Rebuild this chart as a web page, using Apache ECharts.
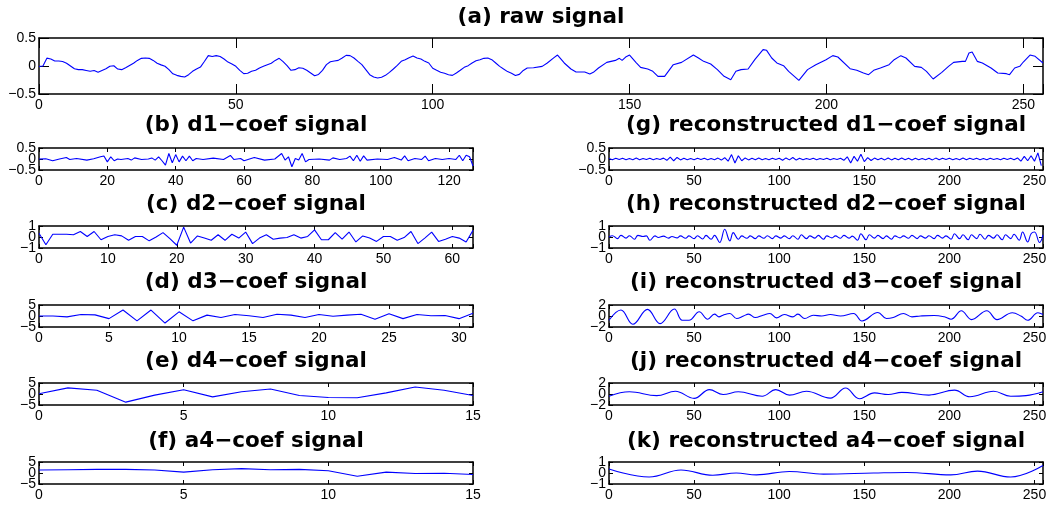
<!DOCTYPE html>
<html>
<head>
<meta charset="utf-8">
<script src="https://cdn.jsdelivr.net/npm/echarts@6/dist/echarts.min.js"></script>
<style>
html, body { margin: 0; padding: 0; background: #fff; }
#main { width: 1053px; height: 506px; }
</style>
</head>
<body>
<div id="main"></div>
<script>
// raw signal, samples 0..119 read one by one
const rawHead = [-0.01, 0.0, 0.14, 0.125, 0.09, 0.09, 0.08, 0.05, 0, -0.05,
  -0.065, -0.065, -0.08, -0.095, -0.08, -0.11, -0.08, -0.05, -0.005, 0.005,
  -0.055, -0.065, -0.03, 0.01, 0.05, 0.1, 0.137, 0.143, 0.137, 0.1,
  0.05, 0.02, -0.005, -0.065, -0.14, -0.167, -0.185, -0.196, -0.155, -0.095,
  -0.054, -0.02, 0.08, 0.185, 0.17, 0.185, 0.17, 0.125, 0.07, 0.035,
  -0.005, -0.077, -0.137, -0.13, -0.095, -0.077, -0.035, -0.005, 0.024, 0.05,
  0.1, 0.137, 0.077, 0.005, -0.077, -0.065, -0.03, -0.04, -0.077, -0.125,
  -0.173, -0.15, -0.077, 0.024, 0.077, 0.09, 0.1, 0.143, 0.19, 0.185,
  0.143, 0.083, 0.024, -0.065, -0.155, -0.196, -0.214, -0.2, -0.167, -0.113,
  -0.054, 0.012, 0.083, 0.113, 0.149, 0.18, 0.143, 0.125, 0.083, 0.054,
  -0.04, -0.077, -0.113, -0.13, -0.155, -0.167, -0.125, -0.077, -0.024, 0.006,
  0.054, 0.095, 0.113, 0.137, 0.143, 0.113, 0.054, -0.006, -0.054, -0.1];
// raw signal from 120 on, read at the turning points
const rawTail = [[120, -0.13], [121, -0.17], [122, -0.15], [123, -0.08], [124, -0.036],
  [125.6, -0.03], [127.8, -0.006], [129.1, 0.054], [130.8, 0.149], [131.7, 0.196],
  [133.4, 0.054], [135.1, -0.054], [136.4, -0.107], [138.6, -0.107], [139.9, -0.143],
  [140.8, -0.113], [142.1, -0.036], [144.2, 0.065], [146.4, 0.1], [147.4, 0.137],
  [148.1, 0.1], [149, 0.16], [150, 0.196], [151.6, 0.065], [152.8, -0.024],
  [154.6, -0.054], [155.9, -0.095], [157.2, -0.185], [158.9, -0.185], [161.1, 0.024],
  [163.2, 0.065], [166.2, 0.196], [167.5, 0.143], [168.8, 0.083], [170.6, 0.036],
  [172.3, -0.065], [174, -0.185], [175.7, -0.244], [177, -0.095], [178.3, -0.065],
  [180.1, -0.054], [181.8, 0.113], [183.9, 0.292], [184.8, 0.28], [186.1, 0.143],
  [187.4, 0.054], [189.1, 0.006], [190.4, -0.095], [193, -0.256], [195.2, -0.065],
  [197.3, 0.024], [199.9, 0.113], [201.6, 0.185], [202.9, 0.161], [206, -0.048],
  [207.7, -0.077], [209.4, -0.125], [210.7, -0.155], [212, -0.077], [213.7, -0.036],
  [215.9, 0.024], [217.2, 0.113], [218.9, 0.185], [220.2, 0.143], [222.4, -0.006],
  [224.1, -0.024], [225.4, -0.095], [227.1, -0.232], [229.3, -0.113], [231, -0.006],
  [232.3, 0.065], [234.5, 0.083], [235.3, 0.083], [236.2, 0.232], [237, 0.25],
  [238.3, 0.083], [239.6, 0.054], [241.8, -0.036], [243.5, -0.125], [245.7, -0.137],
  [246.5, -0.155], [247.8, -0.036], [249.1, -0.006], [250, 0.071], [251.7, 0.196],
  [253, 0.173], [255, 0.054]];

// d1 coefficients (128), read where the line turns
const d1 = [[0, 0], [2, 0.01], [4, -0.08], [6, 0], [8, 0.07], [9, -0.02], [11, 0.02], [14, -0.05],
  [16, 0.01], [18, 0.1], [19, 0.14], [20, -0.13], [21, 0.1], [22, -0.08], [23, 0], [24, -0.02],
  [26, 0.02], [27, -0.05], [28, 0.05], [30, -0.02], [32, 0], [33, 0.05], [34, -0.05], [35, 0.1],
  [36, -0.08], [37, -0.28], [38, 0.25], [39, -0.17], [40, 0.2], [41, -0.13], [42, 0.13], [43, -0.08],
  [44, 0.13], [45, -0.08], [46, 0.02], [48, -0.02], [51, 0.04], [54, -0.02], [56, 0.16], [57, -0.02],
  [59, 0.02], [60, -0.08], [63, 0.07], [66, -0.05], [69, 0], [71, 0.25], [72, -0.05], [73, 0.1],
  [74, -0.35], [75, 0.02], [76, -0.05], [77, 0.25], [78, -0.13], [79, -0.02], [82, 0], [85, -0.05],
  [86, 0.05], [88, -0.02], [90, 0.02], [91, 0.13], [92, -0.08], [93, 0.17], [94, -0.1], [95, 0.14],
  [96, -0.05], [99, 0], [102, -0.02], [104, 0.07], [106, -0.05], [107, 0.14], [108, -0.08], [110, 0.02],
  [112, -0.02], [113, 0.13], [114, -0.08], [116, 0.02], [118, -0.02], [120, 0.02], [122, -0.02],
  [123, 0.17], [124, -0.08], [125, 0.17], [126, 0.1], [127, -0.32]];

// d2 coefficients (64)
const d2 = [0.34, -0.7, 0.25, 0.25, 0.25, 0.2, 0.5, 0.05, 0.5, -0.25,
  0.05, 0.2, 0.1, -0.3, 0.05, 0.05, -0.35, 0, 0.4, -0.15,
  -0.75, 0.9, -0.55, 0.1, -0.1, -0.3, 0.2, -0.3, 0.25, -0.1,
  0.45, -0.6, -0.1, 0.2, -0.2, -0.1, -0.05, 0.2, -0.1, 0.05,
  0.65, -0.25, -0.25, 0.4, -0.2, 0.45, -0.45, 0.1, -0.1, -0.4,
  0.05, 0.05, -0.3, -0.05, 0.5, -0.6, -0.1, 0.45, -0.4, -0.2,
  0.05, -0.1, -0.45, 0.6];

// d3 coefficients (32)
const d3 = [0, 0, -0.4, 0.7, 0.5, -1.2, 2.7, -2.2, 2.7, -3.2,
  1.9, -2.2, 0.4, -0.7, 0.7, 0.1, -0.7, 0.8, 0.4, -0.7,
  0.7, -0.1, 0.4, 0.8, -1.5, 1.0, -1.2, 0.7, 0.1, 0.2,
  -1.2, 1.2];

// d4 and a4 coefficients (16)
const d4 = [0.1, 2.8, 1.7, -3.7, -0.5, 1.9, -1.3, 1.0, 2.3, -0.7, -1.6, -1.7, 0.5, 3.2, 1.7, -0.7];
const a4 = [1.35, 1.5, 1.65, 1.65, 1.35, 0.4, 1.5, 2.0, 1.5, 1.65, 1.0, -1.5, 0.4, -0.2, -0.1, -0.7];

// reconstructed d1, every second sample
const recD1 = [0.02, -0.03, 0.03, -0.02, 0.03, -0.03, 0.02, -0.03, 0.04, -0.03,
  0.02, -0.02, 0.03, -0.03, 0.02, -0.02, 0.04, -0.06, 0.09, -0.08,
  0.07, -0.04, 0.03, -0.03, 0.02, -0.03, 0.03, -0.02, 0.03, -0.03,
  0.02, -0.03, 0.04, -0.05, 0.06, -0.1, 0.2, -0.18, 0.15, -0.08,
  0.05, -0.04, 0.03, -0.03, 0.04, -0.03, 0.02, -0.03, 0.03, -0.02,
  0.03, -0.06, 0.05, -0.04, 0.07, -0.05, 0.03, -0.03, 0.02, -0.02,
  0.03, -0.03, 0.02, -0.02, 0.03, -0.03, 0.02, -0.02, 0.03, -0.06,
  0.1, -0.18, 0.12, -0.1, 0.22, -0.12, 0.06, -0.07, 0.04, -0.03,
  0.03, -0.04, 0.05, -0.04, 0.03, -0.03, 0.04, -0.03, 0.03, -0.04,
  0.03, -0.03, 0.02, -0.03, 0.03, -0.04, 0.04, -0.03, 0.03, -0.02,
  0.03, -0.03, 0.02, -0.03, 0.04, -0.03, 0.03, -0.02, 0.03, -0.03,
  0.02, -0.03, 0.03, -0.02, 0.02, -0.03, 0.03, -0.02, 0.03, -0.03,
  0.05, -0.1, 0.12, -0.08, 0.15, -0.1, 0.28, -0.3];

// reconstructed d2..a4, read at peaks and troughs
const recD2 = [[0, 0], [2, 0.12], [5, -0.15], [7, 0.15], [10, -0.1], [12, 0.12], [15, -0.2], [17, 0.15],
  [20, 0.05], [22, 0.1], [24, -0.3], [27, 0.1], [29, -0.05], [32, 0.08], [35, -0.1], [37, 0.05],
  [40, -0.08], [42, 0.1], [45, -0.12], [47, 0.1], [50, -0.15], [52, 0.12], [55, -0.18], [57, 0.15],
  [60, -0.2], [62, 0.15], [65, -0.5], [68, 0.7], [71, -0.35], [73, 0.4], [76, -0.2], [78, 0.1],
  [81, -0.12], [83, 0.1], [86, -0.15], [88, 0.1], [91, -0.12], [93, 0.12], [96, -0.15], [98, 0.1],
  [101, -0.1], [103, 0.1], [106, -0.15], [108, 0.12], [111, -0.2], [113, 0.2], [116, -0.15], [118, 0.1],
  [121, -0.1], [123, 0.15], [126, -0.2], [128, 0.1], [131, -0.08], [133, 0.1], [136, -0.12], [138, 0.15],
  [141, -0.1], [143, 0.08], [146, -0.3], [148, 0.3], [151, -0.25], [153, 0.2], [156, -0.1], [158, 0.15],
  [161, -0.15], [163, 0.1], [166, -0.2], [168, 0.1], [171, -0.08], [173, 0.1], [176, -0.12], [178, 0.15],
  [181, -0.15], [183, 0.1], [186, -0.1], [188, 0.12], [191, -0.15], [193, 0.15], [196, -0.1], [198, 0.1],
  [201, -0.2], [203, 0.3], [206, -0.15], [208, 0.2], [211, -0.25], [213, 0.2], [216, -0.15], [218, 0.25],
  [221, -0.2], [223, 0.15], [226, -0.1], [228, 0.2], [231, -0.25], [233, 0.2], [236, -0.15], [238, 0.25],
  [241, -0.3], [243, 0.45], [246, -0.45], [248, 0.3], [250, 0.45], [253, -0.5], [255, 0.2]];

const recD3 = [[0, -0.77], [7, 1.08], [14, -1.5], [22.6, 1.2], [30, -1.38], [38.4, 1.26], [43, -0.77],
  [47, -0.77], [53, 0.77], [58, -0.58], [62, 0.34], [64.6, -0.15], [67, 0.15], [71, 0.46], [75, -0.46],
  [79, 0], [82, 0.34], [86, -0.28], [90.5, 0.15], [94.5, 0.46], [98.4, -0.34], [103, 0.28], [108, -0.15],
  [111, 0.34], [115, -0.46], [120, 0.15], [125, 0], [130, 0.28], [136, 0], [143.7, 0.46], [148.6, -0.9],
  [158, 0.65], [163, -0.46], [167, -0.28], [173, 0.46], [178, -0.15], [183, 0], [191, 0.1], [197, -0.15],
  [201, -0.58], [207, 0.95], [213, -0.65], [222, 0.95], [228, -0.65], [237, 0.58], [242, 0], [246, -0.77],
  [252, 0.58], [255, 0.28]];

const recD4 = [[0, -0.4], [12, 0.4], [28, -0.3], [39, 0.5], [50, -0.8], [59, 0.8], [67, -0.1], [76, 0.4],
  [90, -0.4], [98, 0.8], [106, -0.2], [116, 0.5], [130, -0.75], [139, 1.1], [147, -0.85], [156, 0.2],
  [164, -0.1], [172, 0.3], [188, -0.2], [203, 0.7], [212, -0.5], [226, 0.5], [236, -0.4], [245, -0.3],
  [255, 0.4]];

const recA4 = [[0, 0.37], [23.6, -0.37], [42.3, 0.27], [61, -0.2], [74.8, 0], [86.6, -0.17], [106, 0.14],
  [126, -0.1], [155.5, 0], [175, 0.05], [200.8, -0.17], [216.5, 0.17], [236, -0.37], [255, 0.68]];

const indexed = arr => arr.map((v, i) => [i, v]);
const raw = indexed(rawHead).concat(rawTail);
const recD1Pts = recD1.map((v, i) => [i * 2, v]);

const rowTops = [148, 226, 305, 383, 462];
const titleY = [125, 204, 282, 361, 441];
const colL = 39, colR = 609, colW = 434, rowH = 22;

const panels = [
  { title: '(a) raw signal', data: raw, x: 39, y: 38, w: 1004, h: 56, ty: 17, xMax: 255, xStep: 50, yLim: 0.5, tick: 10 },
  { title: '(b) d1\u2212coef signal', data: d1, x: colL, row: 0, xMax: 127, xStep: 20, yLim: 0.5 },
  { title: '(c) d2\u2212coef signal', data: indexed(d2), x: colL, row: 1, xMax: 63, xStep: 10, yLim: 1 },
  { title: '(d) d3\u2212coef signal', data: indexed(d3), x: colL, row: 2, xMax: 31, xStep: 5, yLim: 5 },
  { title: '(e) d4\u2212coef signal', data: indexed(d4), x: colL, row: 3, xMax: 15, xStep: 5, yLim: 5 },
  { title: '(f) a4\u2212coef signal', data: indexed(a4), x: colL, row: 4, xMax: 15, xStep: 5, yLim: 5 },
  { title: '(g) reconstructed d1\u2212coef signal', data: recD1Pts, x: colR, row: 0, xMax: 255, xStep: 50, yLim: 0.5 },
  { title: '(h) reconstructed d2\u2212coef signal', data: recD2, x: colR, row: 1, xMax: 255, xStep: 50, yLim: 1, smooth: true },
  { title: '(i) reconstructed d3\u2212coef signal', data: recD3, x: colR, row: 2, xMax: 255, xStep: 50, yLim: 2, smooth: true },
  { title: '(j) reconstructed d4\u2212coef signal', data: recD4, x: colR, row: 3, xMax: 255, xStep: 50, yLim: 2, smooth: true },
  { title: '(k) reconstructed a4\u2212coef signal', data: recA4, x: colR, row: 4, xMax: 255, xStep: 50, yLim: 1, smooth: true }
];

const black = '#000';
const labelFont = { fontFamily: 'Liberation Sans, Arial, sans-serif', fontSize: 14, color: black };
const boxLine = { color: black, width: 1.5 };
const minus = v => String(v).replace('-', '\u2212');

const option = {
  animation: false,
  backgroundColor: '#fff',
  title: [], grid: [], xAxis: [], yAxis: [], series: []
};

panels.forEach((p, i) => {
  const top = p.row === undefined ? p.y : rowTops[p.row];
  const h = p.h || rowH;
  const w = p.w || colW;
  const tick = p.tick || 4;
  option.title.push({
    text: p.title,
    left: p.x + w / 2,
    top: p.row === undefined ? p.ty : titleY[p.row],
    padding: 0,
    textAlign: 'center',
    textVerticalAlign: 'middle',
    textStyle: { fontFamily: 'DejaVu Sans', fontWeight: 'bold', fontSize: 21.5, color: black }
  });
  option.grid.push({ left: p.x, top: top, width: w, height: h, outerBoundsMode: 'none', containLabel: false });
  const xBase = {
    type: 'value', gridIndex: i, min: 0, max: p.xMax, interval: p.xStep,
    axisLine: { show: true, onZero: false, lineStyle: boxLine },
    axisTick: { show: true, inside: true, length: tick, lineStyle: { color: black } },
    splitLine: { show: false }
  };
  option.xAxis.push(Object.assign({}, xBase, {
    position: 'bottom',
    axisLabel: Object.assign({ margin: 4, showMinLabel: true, showMaxLabel: true,
      formatter: v => (v % p.xStep === 0 ? minus(v) : '') }, labelFont)
  }));
  option.xAxis.push(Object.assign({}, xBase, { position: 'top', axisLabel: { show: false } }));
  const yBase = {
    type: 'value', gridIndex: i, min: -p.yLim, max: p.yLim, interval: p.yLim,
    splitLine: { show: false }
  };
  // left axis: line, ticks and the two end labels
  option.yAxis.push(Object.assign({}, yBase, {
    position: 'left',
    axisLine: { show: true, onZero: false, lineStyle: boxLine },
    axisTick: { show: true, inside: true, length: tick, lineStyle: { color: black } },
    axisLabel: Object.assign({ margin: 3, customValues: [-p.yLim, p.yLim], formatter: v => minus(v) }, labelFont)
  }));
  // right axis: line and ticks only
  option.yAxis.push(Object.assign({}, yBase, {
    position: 'right',
    axisLine: { show: true, onZero: false, lineStyle: boxLine },
    axisTick: { show: true, inside: true, length: tick, lineStyle: { color: black } },
    axisLabel: { show: false }
  }));
  // second left axis only for the "0" label, so it is not dropped as an overlap
  option.yAxis.push(Object.assign({}, yBase, {
    position: 'left',
    axisLine: { show: false },
    axisTick: { show: false },
    axisLabel: Object.assign({ margin: 3, customValues: [0], formatter: v => minus(v) }, labelFont)
  }));
  option.series.push({
    type: 'line',
    xAxisIndex: i * 2,
    yAxisIndex: i * 3,
    data: p.data,
    showSymbol: false,
    smooth: p.smooth ? 0.4 : false,
    lineStyle: { color: '#0000ff', width: 1.1 }
  });
});

const chart = echarts.init(document.getElementById('main'));
chart.setOption(option);
</script>
</body>
</html>
